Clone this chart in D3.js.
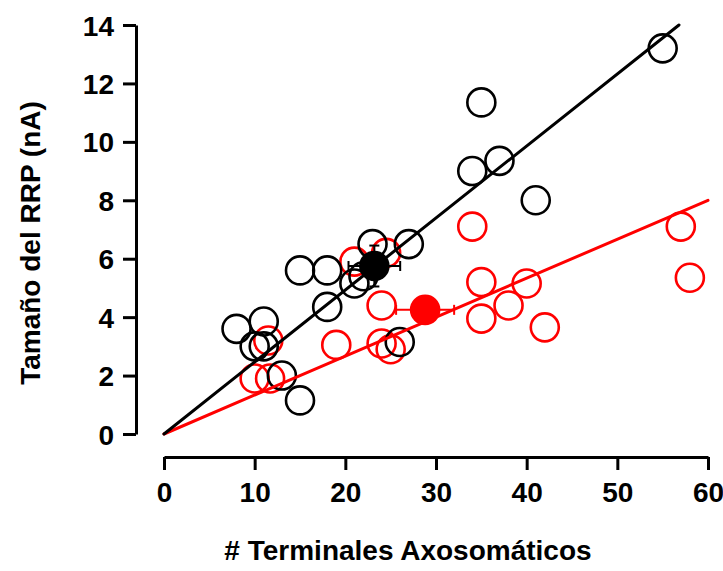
<!DOCTYPE html>
<html>
<head>
<meta charset="utf-8">
<script src="https://cdn.jsdelivr.net/npm/d3@7"></script>
<style>
  html, body { margin: 0; padding: 0; background: #fff; }
  svg { display: block; }
  text { font-family: "Liberation Sans", Arial, sans-serif; font-weight: bold; fill: #000; }
</style>
</head>
<body>
<svg id="chart" width="723" height="571"></svg>
<script>
// Axis ticks
const xTicks = [0, 10, 20, 30, 40, 50, 60];
const yTicks = [0, 2, 4, 6, 8, 10, 12, 14];

// Black group: terminals vs RRP size
const blackX = [55, 35, 34, 37, 41, 15, 18, 23, 27, 21, 22, 18, 8, 11, 10, 11, 13, 15, 26];
const blackY = [13.2, 11.35, 9.0, 9.35, 8.0, 5.6, 5.6, 6.5, 6.5, 5.15, 5.4, 4.35, 3.6, 3.85, 3.0, 3.0, 2.0, 1.15, 3.15];

// Red group
const redX = [10, 11.7, 11.5, 19, 24, 25, 24, 21, 24.5, 34, 35, 40, 38, 35, 42, 57, 58];
const redY = [1.9, 1.9, 3.2, 3.05, 3.1, 2.9, 4.4, 5.9, 6.2, 7.1, 5.2, 5.15, 4.4, 3.95, 3.65, 7.1, 5.35];

// Group means with error (x, y, errX, errY)
const blackMean = [23.2, 5.75, 2.85, 0.7];
const redMean = [28.8, 4.25, 3.2, 0.35];

// Fitted lines through origin: [x0, y0, x1, y1]
const blackFit = [0, 0, 56.8, 14.0];
const redFit = [0, 0, 60, 8.0];

const svg = d3.select("#chart");
const x = d3.scaleLinear().domain([0, 60]).range([164, 708]);
const y = d3.scaleLinear().domain([0, 14]).range([434, 25]);

const axisX = 136;   // y-axis line position
const axisY = 457;   // x-axis line position
const R = 14;

// Y axis
const gy = svg.append("g").attr("transform", `translate(${axisX},0)`)
  .call(d3.axisLeft(y).tickValues(yTicks).tickSize(13).tickPadding(9).tickSizeOuter(0));
gy.select(".domain").attr("stroke-width", 3);
gy.selectAll(".tick line").attr("stroke-width", 3);
gy.selectAll(".tick text").style("font-size", "28px").attr("dy", "0.36em");

// X axis
const gx = svg.append("g").attr("transform", `translate(0,${axisY})`)
  .call(d3.axisBottom(x).tickValues(xTicks).tickSize(13).tickPadding(12).tickSizeOuter(0));
gx.select(".domain").attr("stroke-width", 3);
gx.selectAll(".tick line").attr("stroke-width", 3);
gx.selectAll(".tick text").style("font-size", "28px");

// Axis titles
svg.append("text")
  .attr("x", 408).attr("y", 560)
  .attr("text-anchor", "middle")
  .style("font-size", "28px")
  .text("# Terminales Axosomáticos");

svg.append("text")
  .attr("transform", "translate(40,243) rotate(-90)")
  .attr("text-anchor", "middle")
  .style("font-size", "28px")
  .text("Tamaño del RRP (nA)");

const plot = svg.append("g");

// Open circles, red group then black group
plot.selectAll("circle.red").data(d3.zip(redX, redY)).join("circle")
  .attr("class", "red")
  .attr("cx", d => x(d[0])).attr("cy", d => y(d[1])).attr("r", R)
  .attr("fill", "none").attr("stroke", "#ff0000").attr("stroke-width", 2.6);

plot.selectAll("circle.black").data(d3.zip(blackX, blackY)).join("circle")
  .attr("class", "black")
  .attr("cx", d => x(d[0])).attr("cy", d => y(d[1])).attr("r", R)
  .attr("fill", "none").attr("stroke", "#000").attr("stroke-width", 2.6);

// Regression lines
[[redFit, "#ff0000"], [blackFit, "#000"]].forEach(([f, c]) => {
  plot.append("line")
    .attr("x1", x(f[0])).attr("y1", y(f[1]))
    .attr("x2", x(f[2])).attr("y2", y(f[3]))
    .attr("stroke", c).attr("stroke-width", 3).attr("stroke-linecap", "round");
});

// Means with error bars
function meanMarker(m, color) {
  const g = plot.append("g");
  const [mx, my, ex, ey] = m;
  const cap = 5;
  g.append("line").attr("x1", x(mx - ex)).attr("x2", x(mx + ex))
    .attr("y1", y(my)).attr("y2", y(my)).attr("stroke", color).attr("stroke-width", 2);
  [mx - ex, mx + ex].forEach(v => g.append("line")
    .attr("x1", x(v)).attr("x2", x(v)).attr("y1", y(my) - cap).attr("y2", y(my) + cap)
    .attr("stroke", color).attr("stroke-width", 2));
  g.append("line").attr("x1", x(mx)).attr("x2", x(mx))
    .attr("y1", y(my - ey)).attr("y2", y(my + ey)).attr("stroke", color).attr("stroke-width", 2);
  [my - ey, my + ey].forEach(v => g.append("line")
    .attr("x1", x(mx) - cap).attr("x2", x(mx) + cap).attr("y1", y(v)).attr("y2", y(v))
    .attr("stroke", color).attr("stroke-width", 2));
  g.append("circle").attr("cx", x(mx)).attr("cy", y(my)).attr("r", R + 1.3)
    .attr("fill", color);
}
meanMarker(redMean, "#ff0000");
meanMarker(blackMean, "#000");
</script>
</body>
</html>
